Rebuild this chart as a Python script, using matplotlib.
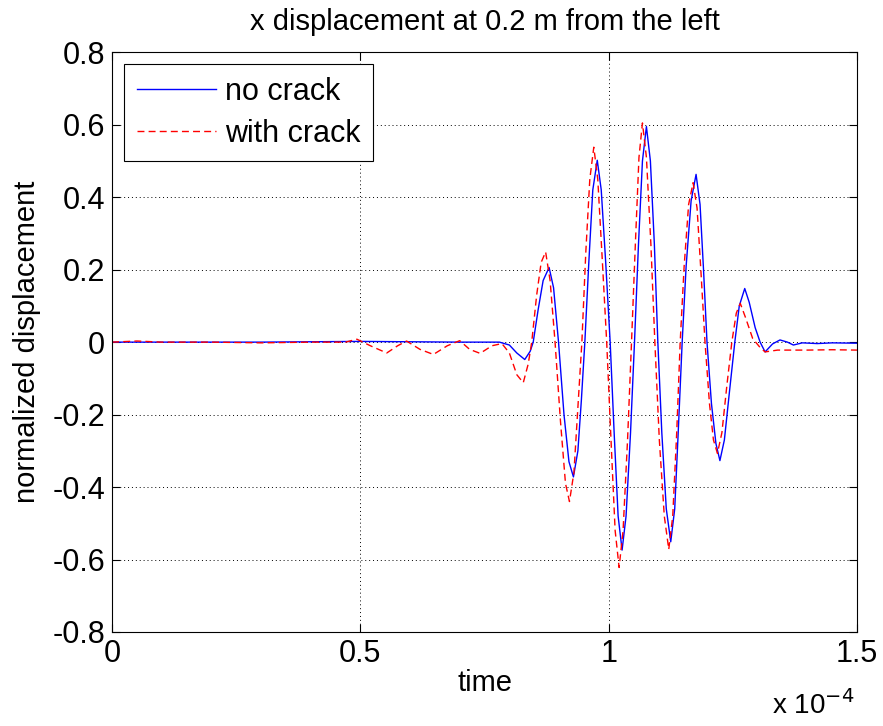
import numpy as np
import matplotlib.pyplot as plt

# time values in units of 1e-4 s
t_no_crack = [0.00, 0.30, 0.50, 0.70, 0.78, 0.80, 0.815, 0.831, 0.842, 0.848,
              0.858, 0.868, 0.880, 0.889, 0.899, 0.910, 0.920, 0.929, 0.938, 0.945,
              0.952, 0.960, 0.968, 0.977, 0.985, 0.994, 1.003, 1.011, 1.019, 1.027,
              1.035, 1.044, 1.052, 1.060, 1.068, 1.076, 1.084, 1.092, 1.099, 1.107,
              1.116, 1.125, 1.133, 1.140, 1.148, 1.156, 1.166, 1.176, 1.184, 1.191,
              1.198, 1.207, 1.216, 1.224, 1.233, 1.243, 1.254, 1.263, 1.274, 1.283,
              1.295, 1.305, 1.315, 1.330, 1.345, 1.360, 1.372, 1.390, 1.420, 1.450,
              1.500]
u_no_crack = [0.0, 0.0, 0.002, 0.0, 0.0, -0.008, -0.03, -0.048, -0.025, 0.0,
              0.09, 0.17, 0.206, 0.15, 0.0, -0.20, -0.33, -0.372, -0.30, -0.16,
              0.0, 0.22, 0.42, 0.502, 0.42, 0.22, 0.0, -0.25, -0.48, -0.574,
              -0.48, -0.25, 0.0, 0.27, 0.50, 0.595, 0.50, 0.27, 0.0, -0.25,
              -0.46, -0.551, -0.46, -0.25, 0.0, 0.21, 0.39, 0.463, 0.38, 0.20,
              0.0, -0.17, -0.28, -0.327, -0.27, -0.14, 0.0, 0.10, 0.148, 0.11,
              0.04, 0.0, -0.027, -0.005, 0.006, 0.0, -0.008, -0.002, -0.004, -0.002,
              -0.003]

t_crack = [0.00, 0.05, 0.10, 0.20, 0.30, 0.40, 0.47, 0.493, 0.52, 0.553,
           0.575, 0.593, 0.62, 0.647, 0.675, 0.70, 0.72, 0.741, 0.765, 0.785,
           0.80, 0.815, 0.828, 0.838, 0.845, 0.855, 0.864, 0.873, 0.882, 0.892,
           0.903, 0.913, 0.921, 0.930, 0.938, 0.946, 0.954, 0.962, 0.970, 0.978,
           0.987, 0.996, 1.005, 1.013, 1.021, 1.029, 1.038, 1.046, 1.054, 1.061,
           1.068, 1.076, 1.085, 1.093, 1.102, 1.112, 1.121, 1.129, 1.137, 1.144,
           1.152, 1.161, 1.170, 1.178, 1.186, 1.194, 1.203, 1.211, 1.219, 1.228,
           1.238, 1.248, 1.257, 1.265, 1.275, 1.290, 1.305, 1.315, 1.340, 1.400,
           1.450, 1.500]
u_crack = [0.0, 0.003, 0.0, 0.0, -0.002, 0.0, 0.0, 0.008, -0.01, -0.03,
           -0.01, 0.003, -0.02, -0.034, -0.01, 0.004, -0.02, -0.031, -0.01, -0.004,
           -0.03, -0.09, -0.112, -0.06, 0.0, 0.13, 0.22, 0.249, 0.17, 0.0,
           -0.22, -0.39, -0.44, -0.36, -0.18, 0.0, 0.25, 0.45, 0.538, 0.45,
           0.23, 0.0, -0.28, -0.52, -0.622, -0.52, -0.27, 0.0, 0.28, 0.51,
           0.605, 0.51, 0.27, 0.0, -0.27, -0.48, -0.572, -0.48, -0.25, 0.0,
           0.21, 0.38, 0.44, 0.37, 0.19, 0.0, -0.17, -0.27, -0.307, -0.25,
           -0.12, 0.0, 0.08, 0.107, 0.07, 0.01, -0.015, -0.027, -0.022, -0.022,
           -0.021, -0.022]

x_ticks = [0, 0.5, 1, 1.5]
x_tick_labels = ['0', '0.5', '1', '1.5']
y_ticks = [-0.8, -0.6, -0.4, -0.2, 0, 0.2, 0.4, 0.6, 0.8]
y_tick_labels = ['-0.8', '-0.6', '-0.4', '-0.2', '0', '0.2', '0.4', '0.6', '0.8']

plt.rcParams['font.family'] = ['Liberation Sans', 'DejaVu Sans']

fig = plt.figure(figsize=(8.83, 7.26), dpi=100)
ax = fig.add_axes([0.127, 0.1295, 0.8435, 0.7985])

ax.plot(t_no_crack, u_no_crack, color='#0000ff', lw=1.0, label='no crack')
ax.plot(t_crack, u_crack, color='#ff0000', lw=1.0, ls=(0, (5, 3)), label='with crack')

ax.set_xlim(0, 1.5)
ax.set_ylim(-0.8, 0.8)
ax.set_xticks(x_ticks)
ax.set_xticklabels(x_tick_labels)
ax.set_yticks(y_ticks)
ax.set_yticklabels(y_tick_labels)
ax.tick_params(direction='in', top=True, right=True, length=6, width=0.8,
               labelsize=22, pad=5)
ax.grid(True, color='black', ls=(0, (1, 3)), lw=0.7)
for s in ax.spines.values():
    s.set_linewidth(0.8)

ax.set_title('x displacement at 0.2 m from the left', fontsize=21, pad=16)
ax.set_xlabel('time', fontsize=21, labelpad=0)
ax.set_ylabel('normalized displacement', fontsize=21, labelpad=8)
fig.text(0.968, 0.008, r'x 10$^{-4}$', fontsize=20, ha='right', va='bottom')

leg = ax.legend(loc='upper left', fontsize=22, fancybox=False, framealpha=1,
                edgecolor='black', handlelength=2.6, handletextpad=0.3,
                borderaxespad=0.4, labelspacing=0.4, borderpad=0.4)
leg.get_frame().set_linewidth(0.8)

fig.savefig('out.png', dpi=100)
